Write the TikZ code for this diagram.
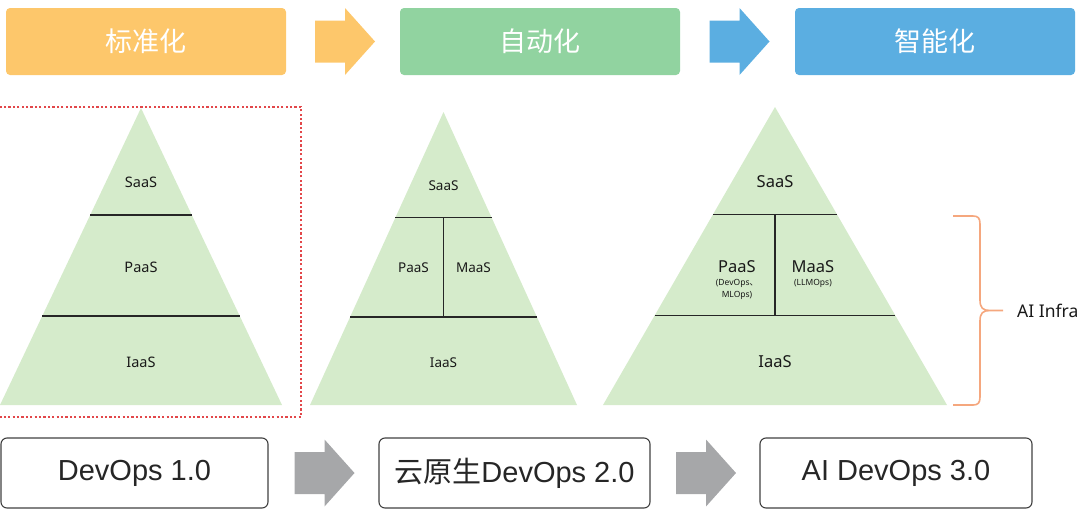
\documentclass[tikz,border=0pt]{standalone}
\usepackage{fontspec}
\setmainfont{Liberation Sans}
\newfontfamily\cjk{Noto Sans CJK SC}
\newfontfamily\lbl{Noto Sans}
\usetikzlibrary{positioning,calc}
\definecolor{stdcol}{HTML}{FDC76B}
\definecolor{autocol}{HTML}{91D3A0}
\definecolor{aicol}{HTML}{5BAEE1}
\definecolor{pyrcol}{HTML}{D5EBCB}
\definecolor{arrcol}{HTML}{A6A7A9}
\definecolor{dotcol}{HTML}{E2474A}
\definecolor{bracecol}{HTML}{F5A77E}

\begin{document}
\begin{tikzpicture}[x=1pt,y=-1pt,
  bar/.style={rounded corners=4pt,minimum width=280pt,minimum height=67pt,inner sep=0pt,
    text=white,font=\cjk\fontsize{27}{27}\selectfont},
  ver/.style={draw=black!75,line width=1.1pt,rounded corners=6pt,minimum height=70pt,
    inner sep=0pt,text=black!85,font=\fontsize{29}{29}\selectfont},
  layer/.style={text=black!90,inner sep=0pt},
  sep/.style={line width=1.4pt,black!85},
  pics/blockarrow/.style={code={\fill[#1] (-30,-21) -- (0,-21) -- (0,-33.5) -- (30,0)
    -- (0,33.5) -- (0,21) -- (-30,21) -- cycle;}}]
\useasboundingbox (0,0) rectangle (1080,512);

\node[bar,fill=stdcol] (std) at (146,41.5) {标准化};
\node[bar,fill=autocol] (auto) at (540,41.5) {自动化};
\node[bar,fill=aicol] (smart) at (935,41.5) {智能化};
\pic at ($(std.east)!.5!(auto.west)+(2,0)$) {blockarrow=stdcol};
\pic at ($(auto.east)!.5!(smart.west)+(2,0)$) {blockarrow=aicol};

\foreach \p/\cx/\top/\half/\fs in {p1/141/108/141/14.5, p2/443.5/112/133.5/13.5, p3/775/107/172/16.5} {
  \coordinate (\p-t) at (\cx,\top);
  \coordinate (\p-b) at (\cx,405);
  \coordinate (\p-l) at (\cx-\half,405);
  \coordinate (\p-r) at (\cx+\half,405);
  \fill[pyrcol] (\p-t) -- (\p-l) -- (\p-r) -- cycle;
  \draw[sep] ($(\p-t)!.36!(\p-l)$) -- ($(\p-t)!.36!(\p-r)$);
  \draw[sep] ($(\p-t)!.7!(\p-l)$) -- ($(\p-t)!.7!(\p-r)$);
  \node[layer,font=\lbl\fontsize{\fs}{\fs}\selectfont] (\p-saas) at ($(\p-t)!.25!(\p-b)$) {SaaS};
  \node[layer,font=\lbl\fontsize{\fs}{\fs}\selectfont] (\p-iaas) at ($(\p-t)!.855!(\p-b)$) {IaaS};
}
\foreach \p in {p2,p3}
  \draw[sep] ($(\p-t)!.36!(\p-b)$) -- ($(\p-t)!.7!(\p-b)$);

\node[layer,font=\lbl\fontsize{14.5}{14.5}\selectfont] (p1-paas) at ($(p1-t)!.535!(p1-b)$) {PaaS};
\node[layer,font=\lbl\fontsize{13.5}{13.5}\selectfont] (p2-paas) at ($(p2-t)!.53!(p2-b)+(-30,0)$) {PaaS};
\node[layer,font=\lbl\fontsize{13.5}{13.5}\selectfont] (p2-maas) at ($(p2-t)!.53!(p2-b)+(30,0)$) {MaaS};
\node[layer,font=\lbl\fontsize{16.5}{16.5}\selectfont] (p3-paas) at ($(p3-t)!.535!(p3-b)+(-38,0)$) {PaaS};
\node[layer,font=\lbl\fontsize{16.5}{16.5}\selectfont] (p3-maas) at ($(p3-t)!.535!(p3-b)+(38,0)$) {MaaS};
\node[layer,align=center,font=\lbl\fontsize{8.5}{12}\selectfont,below=6pt of p3-paas] (p3-psub) {(DevOps{\cjk 、}\\MLOps)};
\node[layer,font=\lbl\fontsize{8.5}{12}\selectfont,below=6pt of p3-maas] (p3-msub) {(LLMOps)};

\draw[dotcol,line width=2.5pt,dash pattern=on 2.2pt off 2.2pt] (-3,107) rectangle (301,417);

\coordinate (br-t) at (953,216);
\coordinate (br-b) at (953,405);
\coordinate (br-tip) at (1003,310.5);
\draw[bracecol,line width=1.6pt] (br-t) -- (973,216) .. controls (978,216) and (980,218) .. (980,224)
  -- (980,300) .. controls (980,308) and (983,310.5) .. (990,310.5) -- (br-tip)
  (990,310.5) .. controls (983,310.5) and (980,313) .. (980,321)
  -- (980,397) .. controls (980,403) and (978,405) .. (973,405) -- (br-b);
\node[layer,anchor=west,font=\lbl\fontsize{17.5}{17.5}\selectfont] (infra) at (1017,311) {AI Infra};

\node[ver,minimum width=267pt] (v1) at (134.5,473) {DevOps 1.0};
\node[ver,minimum width=271pt] (v2) at (514.5,473) {{\cjk 云原生}DevOps 2.0};
\node[ver,minimum width=272pt] (v3) at (896,473) {AI DevOps 3.0};
\pic at ($(v1.east)!.5!(v2.west)+(1,0)$) {blockarrow=arrcol};
\pic at ($(v2.east)!.5!(v3.west)+(1,0)$) {blockarrow=arrcol};
\end{tikzpicture}
\end{document}
